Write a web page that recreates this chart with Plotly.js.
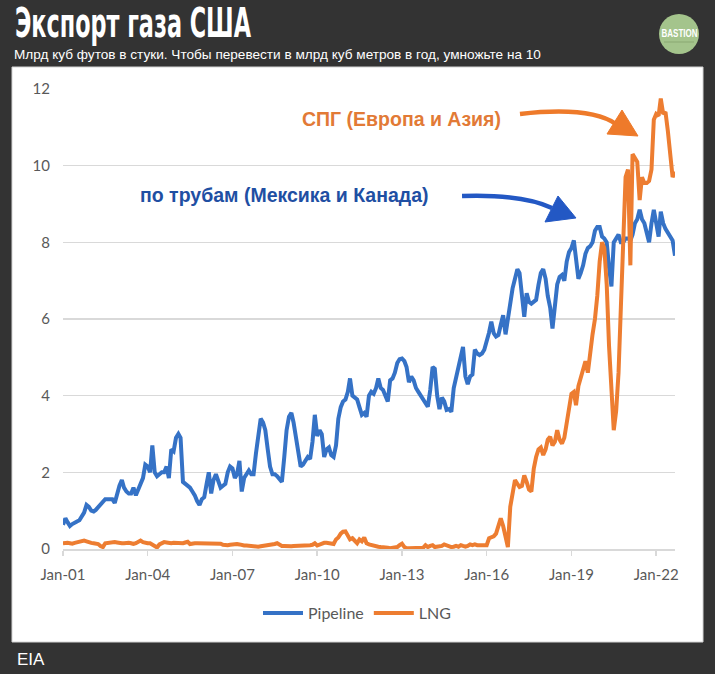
<!DOCTYPE html>
<html>
<head>
<meta charset="utf-8">
<script src="https://cdn.plot.ly/plotly-3.0.1.min.js"></script>
<style>
html,body{margin:0;padding:0;background:#333333;}
#chart{width:715px;height:674px;}
</style>
</head>
<body>
<div id="chart"></div>
<script>
// ---- Data (billion cubic feet per day, monthly, Jan 2001 - Sep 2022) ----
const startYear = 2001;
const seriesNames = ["Pipeline", "LNG"];
const tickLabelsFormat = "%b-%y";

const pipeline = [
  0.63,0.8,0.7,0.6,0.65,0.7,0.72,0.75,0.85,0.95,1.15,1.1,
  1.0,0.98,1.02,1.1,1.15,1.25,1.3,1.3,1.3,1.3,1.2,1.45,
  1.65,1.8,1.6,1.5,1.45,1.45,1.6,1.4,1.55,1.65,1.85,2.2,
  2.15,2.0,2.7,2.0,1.9,1.95,2.0,2.0,2.15,1.85,2.6,2.55,
  2.9,3.0,2.9,1.75,1.7,1.65,1.6,1.5,1.4,1.25,1.15,1.3,
  1.35,1.7,2.0,1.45,1.8,1.95,1.75,1.6,1.65,1.7,2.0,2.15,
  2.1,1.85,1.95,2.3,1.5,1.85,1.95,2.05,1.95,1.95,2.5,2.95,
  3.4,3.3,3.1,2.6,2.15,1.95,1.95,1.9,1.8,1.75,2.4,3.1,
  3.45,3.55,3.3,2.9,2.4,2.15,2.2,2.3,2.4,2.35,2.8,3.5,
  2.95,3.1,3.0,2.4,2.6,2.65,2.45,2.4,2.7,3.4,3.7,3.85,
  3.9,4.1,4.45,4.0,3.95,3.9,3.7,3.5,3.55,3.45,4.0,4.1,
  4.05,4.2,4.45,4.2,4.15,4.0,3.85,4.4,4.45,4.6,4.85,4.95,
  4.97,4.9,4.75,4.35,4.5,4.4,4.2,4.1,4.0,3.89,3.8,3.71,
  4.15,4.75,4.7,4.0,3.65,3.95,3.85,3.63,3.65,3.58,4.2,4.5,
  4.8,5.0,5.27,4.5,4.3,4.5,4.55,5.2,5.1,5.06,5.1,5.2,
  5.41,5.65,5.93,5.63,5.54,5.58,5.85,6.1,5.6,6.0,6.5,6.8,
  7.05,7.3,7.2,6.72,6.06,6.67,6.45,6.4,6.45,6.5,6.89,7.2,
  7.3,7.05,6.6,6.3,5.75,6.3,6.9,7.1,7.15,7.0,7.5,7.75,
  7.85,8.05,7.65,7.05,7.2,7.4,7.7,7.85,7.9,8.0,8.3,8.4,
  8.4,8.15,8.1,8.0,7.35,6.85,8.0,8.1,8.2,8.0,8.0,8.1,
  8.1,8.05,8.2,8.5,8.6,8.85,8.6,8.5,8.25,8.0,8.5,8.85,
  8.5,8.15,8.8,8.5,8.35,8.25,8.15,8.05,7.65
];

const lng = [
  0.15,0.16,0.16,0.15,0.14,0.16,0.18,0.19,0.21,0.22,0.2,0.17,
  0.16,0.15,0.14,0.13,0.08,0.05,0.15,0.16,0.16,0.17,0.18,0.17,
  0.15,0.15,0.15,0.16,0.16,0.15,0.13,0.15,0.2,0.22,0.18,0.16,
  0.15,0.15,0.12,0.1,0.04,0.12,0.16,0.18,0.17,0.15,0.15,0.16,
  0.16,0.15,0.14,0.15,0.17,0.19,0.13,0.15,0.15,0.15,0.15,0.14,
  0.14,0.13,0.13,0.13,0.13,0.14,0.15,0.14,0.11,0.1,0.1,0.11,
  0.12,0.13,0.13,0.12,0.1,0.09,0.09,0.08,0.08,0.07,0.06,0.06,
  0.07,0.08,0.08,0.09,0.1,0.1,0.13,0.15,0.11,0.08,0.08,0.07,
  0.06,0.07,0.08,0.08,0.09,0.1,0.1,0.09,0.09,0.1,0.11,0.15,
  0.09,0.12,0.13,0.16,0.16,0.15,0.14,0.13,0.25,0.3,0.4,0.45,
  0.46,0.35,0.25,0.28,0.2,0.15,0.25,0.2,0.3,0.15,0.12,0.1,
  0.08,0.08,0.06,0.05,0.05,0.04,0.03,0.02,0.03,0.02,0.05,0.1,
  0.14,0.05,0.02,0.02,0.02,0.02,0.02,0.02,0.02,0.03,0.1,0.05,
  0.08,0.1,0.05,0.06,0.08,0.08,0.12,0.1,0.08,0.05,0.06,0.08,
  0.06,0.1,0.08,0.06,0.08,0.12,0.1,0.12,0.1,0.1,0.1,0.08,
  0.1,0.28,0.3,0.33,0.4,0.58,0.8,0.6,0.25,0.05,1.1,1.4,
  1.8,1.7,1.62,1.65,1.92,1.75,1.55,1.5,2.1,2.4,2.6,2.65,
  2.45,2.6,2.85,2.93,2.7,2.8,3.1,2.85,2.75,2.9,3.3,3.8,
  4.05,4.1,3.75,4.25,4.5,4.7,4.9,4.6,5.2,5.6,6.0,6.6,
  7.5,8.0,7.85,6.9,5.3,3.9,3.1,3.6,4.6,6.3,8.3,9.7,
  9.9,7.4,10.3,10.2,10.1,9.1,9.7,9.55,9.55,9.6,9.9,11.2,
  11.35,11.3,11.75,11.35,11.4,10.9,10.2,9.7,9.85
];

// month dates (x categories)
const months = [];
for (let i = 0; i < pipeline.length; i++) {
  const y = startYear + Math.floor(i / 12);
  const m = (i % 12) + 1;
  months.push(y + "-" + (m < 10 ? "0" + m : m) + "-01");
}

// ---- Layout helpers (pixel -> paper) ----
const W = 715, H = 674;
const M = {l: 63, r: 40, t: 89, b: 125};
const PW = W - M.l - M.r, PH = H - M.t - M.b;
const px = x => (x - M.l) / PW;
const py = y => (H - M.b - y) / PH;
const pt = (x, y) => px(x).toFixed(4) + "," + py(y).toFixed(4);

const BLUE = "#3572c6";
const ORANGE = "#ED7D31";
const AXIS_FONT = {family: "Lato, 'Open Sans', sans-serif", size: 15, color: "#595959"};

const traces = [
  {x: months, y: pipeline, name: seriesNames[0], type: "scatter", mode: "lines",
   line: {color: BLUE, width: 4}, hoverinfo: "skip"},
  {x: months, y: lng, name: seriesNames[1], type: "scatter", mode: "lines",
   line: {color: ORANGE, width: 4}, hoverinfo: "skip"}
];

const shapes = [
  // white panel
  {type: "rect", xref: "paper", yref: "paper", layer: "below",
   x0: px(12), x1: px(703), y0: py(642), y1: py(67),
   fillcolor: "#ffffff", line: {color: "#d4d4d4", width: 1}},
  // logo circle
  {type: "circle", xref: "paper", yref: "paper",
   x0: px(659), x1: px(699), y0: py(54), y1: py(14),
   fillcolor: "#a4c48c", line: {width: 0}},
  {type: "line", xref: "paper", yref: "paper",
   x0: px(664), x1: px(694), y0: py(42), y1: py(42),
   line: {color: "#8aa873", width: 1}},
  // orange arrow
  {type: "path", xref: "paper", yref: "paper",
   path: "M" + pt(520, 114) + " Q" + pt(590, 106) + " " + pt(616, 124),
   line: {color: "#EE7A2A", width: 4.5}},
  {type: "path", xref: "paper", yref: "paper",
   path: "M" + pt(638, 136) + " L" + pt(622, 110) + " L" + pt(607, 134) + " Z",
   fillcolor: "#EE7A2A", line: {color: "#EE7A2A", width: 1}},
  // blue arrow
  {type: "path", xref: "paper", yref: "paper",
   path: "M" + pt(462, 196) + " Q" + pt(523, 194) + " " + pt(552, 208),
   line: {color: "#2358c4", width: 4.5}},
  {type: "path", xref: "paper", yref: "paper",
   path: "M" + pt(576, 218) + " L" + pt(558, 196) + " L" + pt(545, 222) + " Z",
   fillcolor: "#2358c4", line: {color: "#2358c4", width: 1}}
];

const annotations = [
  {text: "Экспорт газа США", xref: "paper", yref: "paper", x: px(133), y: py(23),
   xanchor: "center", yanchor: "middle", showarrow: false,
   font: {family: "'Liberation Sans Narrow', 'DejaVu Sans Condensed', sans-serif", size: 41, color: "#ffffff", weight: 700}},
  {text: "Млрд куб футов в стуки. Чтобы перевести в млрд куб метров в год, умножьте на 10",
   xref: "paper", yref: "paper", x: px(12), y: py(55), xanchor: "left", yanchor: "middle",
   showarrow: false, font: {family: "'Liberation Sans', Arial, sans-serif", size: 13.6, color: "#ffffff"}},
  {text: "BASTION", xref: "paper", yref: "paper", x: px(679), y: py(34), xanchor: "center", yanchor: "middle",
   showarrow: false, font: {family: "'Liberation Sans Narrow', sans-serif", size: 10, color: "#ffffff", weight: 700}},
  {text: "СПГ (Европа и Азия)", xref: "paper", yref: "paper", x: px(300), y: py(119),
   xanchor: "left", yanchor: "middle", showarrow: false,
   font: {family: "'Liberation Sans', Arial, sans-serif", size: 19.5, color: "#E27A36", weight: 700}},
  {text: "по трубам (Мексика и Канада)", xref: "paper", yref: "paper", x: px(138), y: py(195),
   xanchor: "left", yanchor: "middle", showarrow: false,
   font: {family: "'Liberation Sans', Arial, sans-serif", size: 19.5, color: "#1F4FA3", weight: 700}},
  {text: "EIA", xref: "paper", yref: "paper", x: px(15), y: py(659), xanchor: "left", yanchor: "middle",
   showarrow: false, font: {family: "'Liberation Sans', Arial, sans-serif", size: 17, color: "#ffffff"}}
];

const layout = {
  width: W, height: H,
  margin: M,
  paper_bgcolor: "#333333",
  plot_bgcolor: "#ffffff",
  showlegend: true,
  legend: {orientation: "h", x: px(357), xanchor: "center", y: py(613), yanchor: "middle",
           font: {family: "Lato, 'Open Sans', sans-serif", size: 16, color: "#595959"},
           bgcolor: "rgba(0,0,0,0)", itemwidth: 40, traceorder: "normal"},
  xaxis: {type: "date", range: [months[0], months[months.length - 1]],
          tick0: "2001-01-01", dtick: "M36", tickformat: tickLabelsFormat,
          showgrid: false, zeroline: false, showline: true, linecolor: "#d9d9d9", linewidth: 1.5,
          ticks: "outside", ticklen: 5, tickwidth: 1.5, tickcolor: "#d9d9d9",
          ticklabelstandoff: 6, tickfont: AXIS_FONT, fixedrange: true},
  yaxis: {range: [0, 12], dtick: 2, showgrid: true, gridcolor: "#d9d9d9", gridwidth: 1.5,
          zeroline: false, showline: false, ticks: "", ticklabelstandoff: 12,
          tickfont: AXIS_FONT, fixedrange: true},
  shapes: shapes,
  annotations: annotations
};

Plotly.newPlot("chart", traces, layout, {displayModeBar: false, staticPlot: true}).then(function () {
  // condense the glyphs to match the narrow display typeface of the original
  document.querySelectorAll("text.annotation-text").forEach(function (t) {
    if (t.textContent === "Экспорт газа США") {
      t.setAttribute("textLength", "236");
      t.setAttribute("lengthAdjust", "spacingAndGlyphs");
    }
    if (t.textContent === "BASTION") {
      t.setAttribute("textLength", "36");
      t.setAttribute("lengthAdjust", "spacingAndGlyphs");
    }
  });
});
</script>
</body>
</html>
